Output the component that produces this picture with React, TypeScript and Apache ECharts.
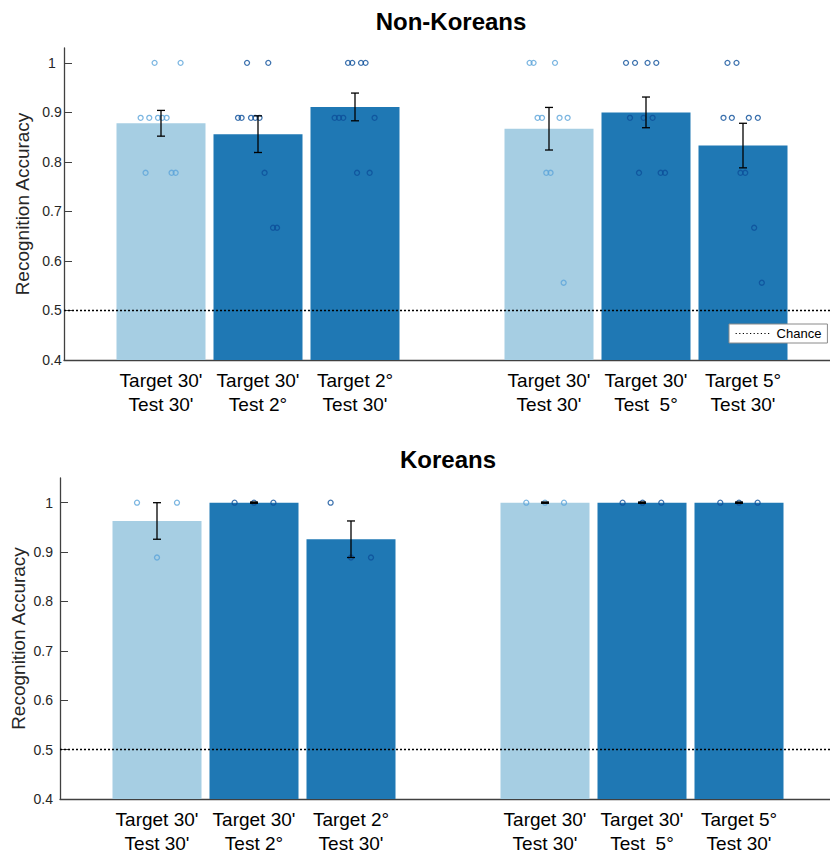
import React, { useEffect, useRef } from "react";
import * as echarts from "echarts";

// ---------- data ----------
const conditionLabels = [
  "Target 30'\nTest 30'",
  "Target 30'\nTest 2°",
  "Target 2°\nTest 30'",
  "Target 30'\nTest 30'",
  "Target 30'\nTest  5°",
  "Target 5°\nTest 30'",
];
const barPositions = [1, 2, 3, 5, 6, 7];
const barShades = ["light", "dark", "dark", "light", "dark", "dark"];

const nonKoreanMeans = [0.878, 0.856, 0.911, 0.867, 0.9, 0.833];
const nonKoreanSE = [0.026, 0.037, 0.028, 0.043, 0.031, 0.045];
const nonKoreanScores = [
  [1, 1, 0.889, 0.889, 0.889, 0.889, 0.889, 0.778, 0.778, 0.778],
  [1, 1, 0.889, 0.889, 0.889, 0.889, 0.889, 0.778, 0.667, 0.667],
  [1, 1, 1, 1, 0.889, 0.889, 0.889, 0.889, 0.778, 0.778],
  [1, 1, 1, 0.889, 0.889, 0.889, 0.889, 0.778, 0.778, 0.556],
  [1, 1, 1, 1, 0.889, 0.889, 0.889, 0.778, 0.778, 0.778],
  [1, 1, 0.889, 0.889, 0.889, 0.889, 0.778, 0.778, 0.667, 0.556],
];
const nonKoreanJitter = [
  [-0.066, 0.202, -0.21, -0.121, -0.031, 0.013, 0.058, -0.159, 0.109, 0.151],
  [-0.113, 0.106, -0.206, -0.169, -0.072, -0.028, 0.016, 0.068, 0.155, 0.196],
  [-0.072, -0.028, 0.062, 0.109, -0.21, -0.165, -0.121, 0.202, 0.021, 0.151],
  [-0.2, -0.159, 0.062, -0.118, -0.072, 0.109, 0.192, -0.028, 0.016, 0.151],
  [-0.206, -0.113, 0.016, 0.106, -0.165, -0.025, 0.068, -0.072, 0.151, 0.196],
  [-0.16, -0.067, -0.201, -0.115, 0.06, 0.153, -0.026, 0.023, 0.115, 0.194],
];

const koreanMeans = [0.963, 1.0, 0.926, 1.0, 1.0, 1.0];
const koreanSE = [0.037, 0, 0.037, 0, 0, 0];
const koreanScores = [
  [1, 1, 0.889],
  [1, 1, 1],
  [1, 0.889, 0.889],
  [1, 1, 1],
  [1, 1, 1],
  [1, 1, 1],
];
const koreanJitter = [
  [-0.206, 0.206, 0],
  [-0.2, 0, 0.2],
  [-0.21, 0, 0.206],
  [-0.193, 0, 0.196],
  [-0.2, 0.006, 0.199],
  [-0.193, 0, 0.192],
];

const yTicks = [0.4, 0.5, 0.6, 0.7, 0.8, 0.9, 1];
const chanceLevel = 0.5;

// ---------- styles ----------
const BAR_COLORS: Record<string, string> = { light: "#a6cee3", dark: "#1f78b4" };
const DOT_COLORS: Record<string, string> = { light: "#5ba4da", dark: "#0d4f9a" };
const FONT = "'Liberation Sans', Arial, Helvetica, sans-serif";
const AXIS_COLOR = "#404040";
const TEXT_COLOR = "#262626";

const panels = [
  {
    title: "Non-Koreans",
    means: nonKoreanMeans,
    se: nonKoreanSE,
    scores: nonKoreanScores,
    jitter: nonKoreanJitter,
    grid: { left: 64, top: 48, right: 0, height: 312 },
    yMax: 1.03,
    xMax: 766 / 97,
    titleX: 451,
    titleY: 9,
    nameGap: 32,
    labelAlign: "center",
    labelMargin: 12,
  },
  {
    title: "Koreans",
    means: koreanMeans,
    se: koreanSE,
    scores: koreanScores,
    jitter: koreanJitter,
    grid: { left: 60, top: 478, right: 0, height: 321 },
    yMax: 1.05,
    xMax: 770 / 97,
    titleX: 448,
    titleY: 447,
    nameGap: 32,
    labelAlign: "right",
    labelMargin: 7,
  },
];

function buildOption() {
  const grid: any[] = [];
  const xAxis: any[] = [];
  const yAxis: any[] = [];
  const series: any[] = [];
  const title: any[] = [];

  panels.forEach((p, pi) => {
    grid.push({ ...p.grid, containLabel: false, outerBoundsMode: "none" });
    title.push({
      text: p.title,
      left: p.titleX,
      top: p.titleY,
      textAlign: "center",
      padding: 0,
      textStyle: { fontSize: 24, fontWeight: "bold", color: "#000", fontFamily: FONT },
    });
    xAxis.push({
      type: "value",
      gridIndex: pi,
      min: 0,
      max: p.xMax,
      axisLine: { show: true, lineStyle: { color: AXIS_COLOR, width: 1.3 } },
      axisTick: { show: true, inside: true, length: 5, customValues: barPositions, lineStyle: { color: AXIS_COLOR } },
      axisLabel: {
        customValues: barPositions,
        formatter: (v: number) => {
          const idx = barPositions.indexOf(Math.round(v));
          return idx >= 0 ? conditionLabels[idx] : "";
        },
        fontSize: 19,
        lineHeight: 24,
        color: "#000",
        margin: 8,
        fontFamily: FONT,
      },
      splitLine: { show: false },
    });
    yAxis.push({
      type: "value",
      gridIndex: pi,
      min: 0.4,
      max: p.yMax,
      name: "Recognition Accuracy",
      nameLocation: "middle",
      nameGap: p.nameGap,
      nameMoveOverlap: false,
      nameTextStyle: { fontSize: 19, color: TEXT_COLOR, fontFamily: FONT },
      axisLine: { show: true, lineStyle: { color: AXIS_COLOR, width: 1.3 } },
      axisTick: { show: true, inside: true, length: 8, customValues: yTicks, lineStyle: { color: AXIS_COLOR } },
      axisLabel: {
        customValues: yTicks,
        formatter: (v: number) => (Math.abs(v - 1) < 1e-9 ? "1" : v.toFixed(1)),
        fontSize: 14,
        color: TEXT_COLOR,
        align: p.labelAlign,
        margin: p.labelMargin,
        fontFamily: FONT,
      },
      splitLine: { show: false },
    });

    // bars
    series.push({
      type: "bar",
      name: p.title + " mean",
      xAxisIndex: pi,
      yAxisIndex: pi,
      barWidth: 89,
      clip: true,
      data: p.means.map((m, i) => ({
        value: [barPositions[i], m],
        itemStyle: { color: BAR_COLORS[barShades[i]] },
      })),
      z: 2,
    });

    // chance line
    series.push({
      type: "line",
      name: "Chance",
      xAxisIndex: pi,
      yAxisIndex: pi,
      symbol: "none",
      data: [
        [0, chanceLevel],
        [p.xMax, chanceLevel],
      ],
      lineStyle: { color: "#000", width: 1.5, type: [2, 2] },
      itemStyle: { color: "#000" },
      z: 3,
      silent: true,
    });

    // individual points
    const pts: any[] = [];
    p.scores.forEach((arr, i) => {
      arr.forEach((s, j) => {
        pts.push({
          value: [barPositions[i] + p.jitter[i][j], s],
          itemStyle: {
            color: "rgba(255,255,255,0)",
            borderColor: DOT_COLORS[barShades[i]],
            borderWidth: 1.3,
          },
        });
      });
    });
    series.push({
      type: "scatter",
      name: p.title + " subjects",
      xAxisIndex: pi,
      yAxisIndex: pi,
      symbol: "circle",
      symbolSize: 5,
      data: pts,
      z: 4,
    });

    // error bars
    series.push({
      type: "custom",
      name: p.title + " SE",
      xAxisIndex: pi,
      yAxisIndex: pi,
      z: 5,
      data: p.means.map((m, i) => [barPositions[i], m - p.se[i], m + p.se[i]]),
      encode: { x: 0, y: [1, 2] },
      renderItem: (params: any, api: any) => {
        const x = api.value(0);
        const lo = api.coord([x, api.value(1)]);
        const hi = api.coord([x, api.value(2)]);
        const cap = 4;
        const style = { stroke: "#000", lineWidth: 1.3 };
        const zero = Math.abs(lo[1] - hi[1]) < 0.5;
        const capStyle = zero ? { stroke: "#000", lineWidth: 2.2 } : style;
        return {
          type: "group",
          children: [
            { type: "line", shape: { x1: lo[0], y1: lo[1], x2: hi[0], y2: hi[1] }, style },
            { type: "line", shape: { x1: lo[0] - cap, y1: lo[1], x2: lo[0] + cap, y2: lo[1] }, style: capStyle },
            { type: "line", shape: { x1: hi[0] - cap, y1: hi[1], x2: hi[0] + cap, y2: hi[1] }, style: capStyle },
          ],
        };
      },
    });
  });

  return {
    animation: false,
    backgroundColor: "#fff",
    textStyle: { fontFamily: FONT },
    title,
    grid,
    xAxis,
    yAxis,
    legend: {
      data: ["Chance"],
      left: 729,
      top: 324,
      orient: "horizontal",
      padding: [3, 6, 3, 6],
      itemWidth: 36,
      itemHeight: 14,
      itemGap: 5,
      borderColor: "#8a8a8a",
      borderWidth: 1,
      backgroundColor: "#fff",
      itemStyle: { opacity: 0, borderWidth: 0 },
      lineStyle: { color: "#000", width: 1.2, type: [1.2, 2.4] },
      textStyle: { fontSize: 13, color: "#000", fontFamily: FONT },
      selectedMode: false,
      z: 10,
    },
    series,
  };
}

export default function App() {
  const ref = useRef<HTMLDivElement>(null);
  useEffect(() => {
    if (!ref.current) return;
    const chart = echarts.init(ref.current, undefined, { renderer: "svg" });
    chart.setOption(buildOption() as any);
    return () => chart.dispose();
  }, []);
  return (
    <div
      ref={ref}
      style={{ position: "absolute", left: 0, top: 0, width: 830, height: 852, background: "#fff" }}
    />
  );
}
